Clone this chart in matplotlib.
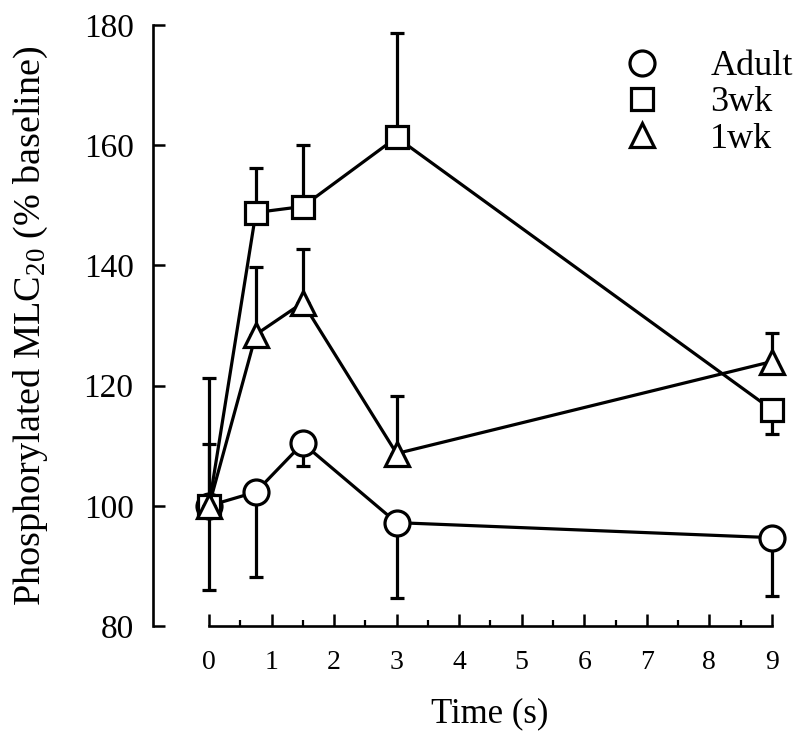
import matplotlib
matplotlib.use("Agg")
import matplotlib.pyplot as plt
import numpy as np

# ---- data ----
times = [0, 0.75, 1.5, 3, 9]
adult = [100, 102.3, 110.4, 97.2, 94.7]
adult_lo = [14, 14.1, 3.8, 12.5, 9.7]
adult_hi = [0, 0, 0, 0, 0]
wk3 = [100, 148.8, 149.8, 161.3, 116]
wk3_lo = [0, 0, 0, 0, 4]
wk3_hi = [21.3, 7.4, 10.2, 17.4, 0]
wk1 = [100, 128.5, 133.8, 108.7, 124]
wk1_lo = [0, 0, 0, 0, 0]
wk1_hi = [10.3, 11.2, 9.0, 9.6, 4.8]
labels = ["Adult", "3wk", "1wk"]
xticks = list(range(0, 10))
yticks = [80, 100, 120, 140, 160, 180]

plt.rcParams['font.family'] = ['Liberation Serif', 'DejaVu Serif']
plt.rcParams['mathtext.fontset'] = 'custom'
plt.rcParams['mathtext.rm'] = 'Liberation Serif'
plt.rcParams['mathtext.it'] = 'Liberation Serif:italic'

fig = plt.figure(figsize=(8, 7.43), dpi=100)
W, H = 800, 743
left, right, top, bottom = 153, 790, 25, 626
ax = fig.add_axes([left / W, 1 - bottom / H, (right - left) / W, (bottom - top) / H])

lw = 2.3
series = [
    (adult, adult_lo, adult_hi, 'o', 18, labels[0], 3),
    (wk3, wk3_lo, wk3_hi, 's', 16, labels[1], 4),
    (wk1, wk1_lo, wk1_hi, '^', 17, labels[2], 5),
]
handles = []
for vals, lo, hi, m, ms, lab, z in series:
    ax.errorbar(times, vals, yerr=[lo, hi], fmt='none', ecolor='black',
                elinewidth=lw, capsize=4.8, capthick=lw, zorder=z)
    h, = ax.plot(times, vals, color='black', lw=lw, marker=m, ms=ms,
                 mfc='white', mec='black', mew=2.3, zorder=z + 0.5, label=lab)
    handles.append(h)

ax.set_xlim(-0.895, 9.29)
ax.set_ylim(80, 180)
for s in ['top', 'right']:
    ax.spines[s].set_visible(False)
ax.spines['bottom'].set_bounds(0, 9)
ax.spines['left'].set_bounds(80, 180)
for s in ['bottom', 'left']:
    ax.spines[s].set_linewidth(1.9)

ax.set_xticks(xticks)
ax.set_xticks(np.arange(0.5, 9, 1.0), minor=True)
ax.set_yticks(yticks)
ax.tick_params(axis='x', which='major', direction='in', length=8.5, width=1.8,
               labelsize=20, pad=17)
ax.tick_params(axis='x', which='minor', direction='in', length=4.3, width=1.6)
ax.tick_params(axis='y', which='major', direction='in', length=8.5, width=1.8,
               labelsize=24, pad=14)

ax.set_xlabel('Time (s)', fontsize=25)
ax.xaxis.set_label_coords((490 - left) / (right - left), -0.118)
ax.set_ylabel(r'Phosphorylated MLC$_{20}$ (% baseline)', fontsize=27.5)
ax.yaxis.set_label_coords((50 - left) / (right - left), 0.5)

leg_handles = []
for h in handles:
    lh, = ax.plot([], [], linestyle='none', marker=h.get_marker(), ms=h.get_markersize(),
                  mfc='white', mec='black', mew=2.3)
    leg_handles.append(lh)
ax.legend(leg_handles, labels, loc='upper left', bbox_to_anchor=(624 / W, 1 - 50 / H),
          bbox_transform=fig.transFigure, frameon=False, fontsize=26,
          handletextpad=1.39, labelspacing=0.08, handlelength=1.0, borderpad=0,
          borderaxespad=0)

fig.savefig('out.png', dpi=100)
